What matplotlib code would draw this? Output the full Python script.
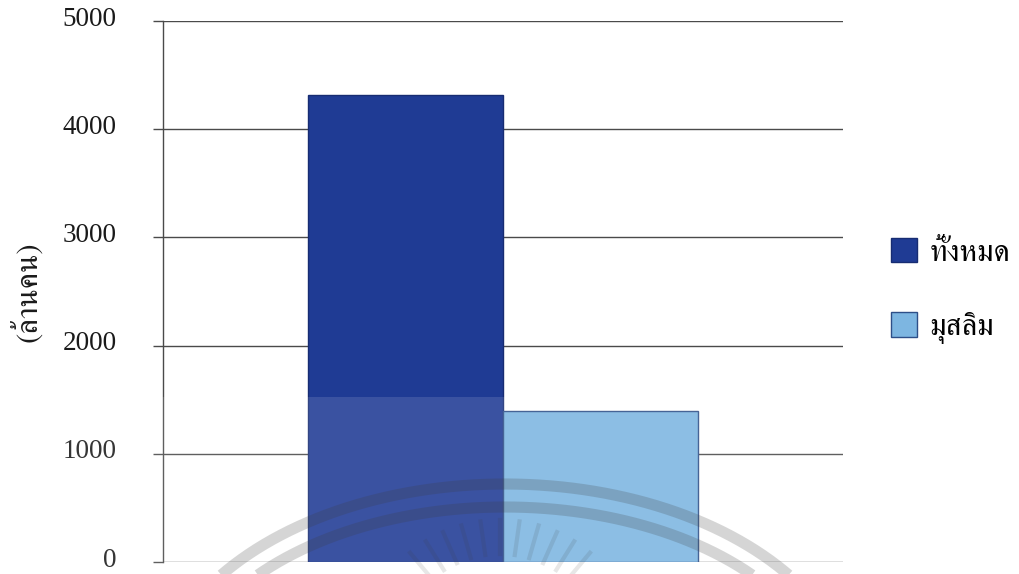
import matplotlib
matplotlib.use("Agg")
import matplotlib.pyplot as plt
import matplotlib.transforms as mtransforms
from matplotlib import font_manager
from matplotlib.patches import Rectangle, Patch
import numpy as np

# Population figures (millions of people)
categories = ["ทั้งหมด", "มุสลิม"]
values = [4320, 1400]
yticks = [0, 1000, 2000, 3000, 4000, 5000]
ylabel = "(ล้านคน)"
bar_colors = ["#1f3b94", "#7db6e1"]
edge_colors = ["#172c72", "#2d4f88"]


def thai_family():
    """Return the name of an installed family that can draw Thai script."""
    try:
        from fontTools.ttLib import TTFont
    except Exception:
        return None
    found = []
    for fe in font_manager.fontManager.ttflist:
        try:
            f = TTFont(fe.fname, fontNumber=0, lazy=True)
            cmap = f.getBestCmap()
        except Exception:
            continue
        if cmap and 0x0E17 in cmap and 0x0E49 in cmap and 0x0E21 in cmap:
            found.append(fe.name)
    if not found:
        return None
    for key in ("Serif", "Looped", "Loma", "Garuda", "Norasi"):
        for n in found:
            if key in n:
                return n
    return found[0]


thai = thai_family()
serif = ["Liberation Serif", "DejaVu Serif"]
thai_fam = ([thai] if thai else []) + serif + ["DejaVu Sans"]

W, H, DPI = 1020, 574, 100
fig = plt.figure(figsize=(W / DPI, H / DPI), dpi=DPI)
fig.patch.set_facecolor("white")

ax = fig.add_axes([163 / W, 1 - 562 / H, (843 - 163) / W, (562 - 21) / H])
ax.set_xlim(0, 1)
ax.set_ylim(0, 5000)

width = 0.287
xs = [0.5 - width / 2, 0.5 + width / 2]
for x, v, c, ec in zip(xs, values, bar_colors, edge_colors):
    ax.bar(x, v, width=width, color=c, edgecolor=ec, linewidth=1.0, zorder=3)

ax.set_yticks(yticks)
ax.set_yticklabels([str(t) for t in yticks], family=serif, fontsize=19.5)
ax.yaxis.grid(True, color="#4a4a4a", linewidth=1.0, zorder=0)
ax.set_axisbelow(True)
ax.set_xticks([])
for side in ("top", "right", "bottom"):
    ax.spines[side].set_visible(False)
ax.spines["left"].set_color("#4a4a4a")
ax.spines["left"].set_linewidth(1.0)
ax.tick_params(axis="y", length=7.5, width=1.0, color="#4a4a4a", pad=26,
               labelcolor="#1a1a1a")
# nudge the value labels up so the bottom one stays on the page
lift = mtransforms.ScaledTranslation(0, 3.5 / 72, fig.dpi_scale_trans)
for tick in ax.yaxis.get_major_ticks():
    tick.label1.set_transform(tick.label1.get_transform() + lift)

ax.set_ylabel(ylabel, family=thai_fam, fontsize=22, color="#1a1a1a",
              labelpad=14)

handles = [Patch(facecolor=c, edgecolor=ec, linewidth=1.0)
           for c, ec in zip(bar_colors, edge_colors)]
fig.legend(handles, categories, loc="center left",
           bbox_to_anchor=(891 / W, 1 - 291 / H), frameon=False,
           prop=font_manager.FontProperties(family=thai_fam, size=22),
           handlelength=0.85, handleheight=0.85, handletextpad=0.4,
           labelspacing=1.45, borderpad=0, borderaxespad=0)

# Faint printed seal over the lower part of the page
ov = fig.add_axes([0, 0, 1, 1], facecolor="none")
ov.set_xlim(0, W)
ov.set_ylim(H, 0)
ov.axis("off")
ov.add_patch(Rectangle((0, 397), W, H - 397, facecolor="white", alpha=0.12,
                       edgecolor="none"))
for a, b in ((352, 223), (329, 200)):
    t = np.linspace(np.pi * 1.0, np.pi * 2.0, 400)
    ov.plot(505 + a * np.cos(t), 707 + b * np.sin(t), color="#3c3c3c",
            alpha=0.21, linewidth=8, solid_capstyle="butt")
for ang in np.linspace(-40, 40, 11):
    r = np.deg2rad(ang - 90)
    ox, oy = 500, 660
    ov.plot([ox + 106 * np.cos(r), ox + 140 * np.cos(r)],
            [oy + 106 * np.sin(r), oy + 140 * np.sin(r)],
            color="#3c3c3c", alpha=0.12, linewidth=3)

fig.savefig("out.png", dpi=DPI)
